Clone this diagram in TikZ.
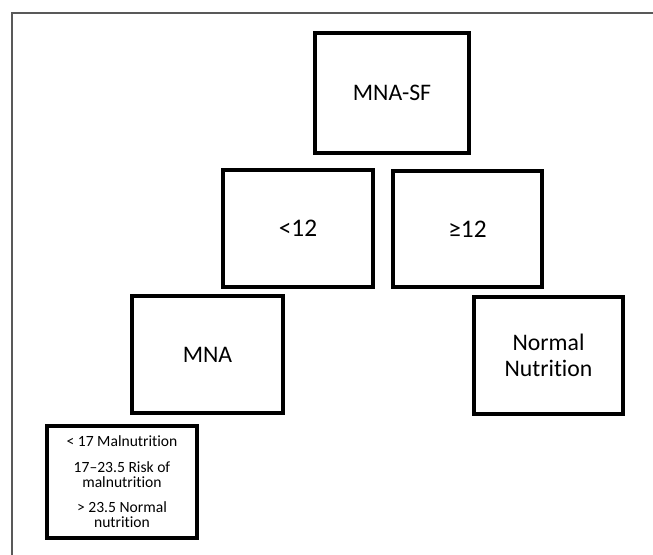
\documentclass[tikz,border=0pt]{standalone}
\usepackage{fontspec}
\setmainfont[Ligatures={TeX,NoCommon}]{Carlito}
\begin{document}
\begin{tikzpicture}[x=0.75pt,y=-0.75pt,
  box/.style={draw=black,line width=2.3pt,inner sep=0pt,align=center,
    font=\fontsize{17.8}{20}\selectfont},
  cmpbox/.style={box,font=\fontsize{19}{21}\selectfont},
  legendbox/.style={draw=black,line width=2.3pt,inner sep=0pt,align=center,
    font=\fontsize{11.7}{11.4}\selectfont},
  frameline/.style={draw=black!65,line width=1.1pt}]
\useasboundingbox (0,0) rectangle (653,555);
\coordinate (fbl) at (12,555);
\coordinate (ftl) at (12,13);
\coordinate (ftr) at (653,13);
\draw[frameline] (fbl) -- (ftl) -- (ftr);
\node[box,minimum width=154*0.75pt,minimum height=120*0.75pt] (sf) at (392,93) {MNA-SF};
\node[cmpbox,minimum width=150*0.75pt,minimum height=117*0.75pt] (lt) at (298,228.5) {<12};
\node[cmpbox,minimum width=149*0.75pt,minimum height=116*0.75pt] (ge) at (467.5,229) {≥12};
\node[box,minimum width=151*0.75pt,minimum height=117*0.75pt] (mna) at (207.5,354.5) {MNA};
\node[box,minimum width=149*0.75pt,minimum height=117*0.75pt] (nn) at (548.5,355.5) {Normal\\Nutrition};
\node[legendbox,minimum width=150*0.75pt,minimum height=112*0.75pt] (leg) at (122,482)
  {< 17 Malnutrition\\[7.5pt] 17–23.5 Risk of\\ malnutrition\\[7.5pt] > 23.5 Normal\\ nutrition};
\end{tikzpicture}
\end{document}
